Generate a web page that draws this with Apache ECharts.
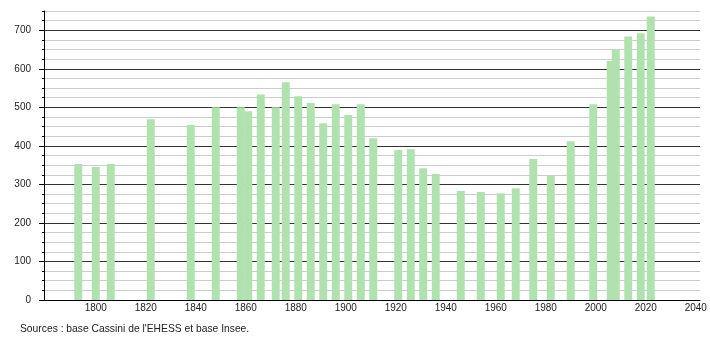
<!DOCTYPE html>
<html>
<head>
<meta charset="utf-8">
<script src="https://cdn.jsdelivr.net/npm/echarts@6/dist/echarts.min.js"></script>
<style>html,body{margin:0;padding:0;background:#fff;}#c{width:710px;height:340px;}</style>
</head>
<body>
<div id="c"></div>
<script>
const years = [1793,1800,1806,1822,1838,1848,1858,1861,1866,1872,1876,1881,1886,1891,1896,1901,1906,1911,1921,1926,1931,1936,1946,1954,1962,1968,1975,1982,1990,1999,2006,2008,2013,2018,2022];
const population = [353,345,353,469,454,500,500,490,533,500,565,529,511,459,508,480,508,420,389,391,342,327,283,280,277,290,366,323,412,508,620,650,684,692,736];
const xTickLabels = [1800,1820,1840,1860,1880,1900,1920,1940,1960,1980,2000,2020,2040];
const yMajorTicks = [0,100,200,300,400,500,600,700];
const sourceText = "Sources : base Cassini de l'EHESS et base Insee.";

const data = years.map((y, i) => [y, population[i]]);
const chart = echarts.init(document.getElementById('c'), null, {renderer: 'canvas'});
const font = 'Liberation Sans, Arial, sans-serif';
chart.setOption({
  animation: false,
  backgroundColor: '#fff',
  title: {
    text: sourceText, left: 20, top: 324, padding: 0,
    textStyle: {fontSize: 10.3, fontWeight: 'normal', color: '#222', fontFamily: font}
  },
  grid: {left: 44, right: 10, top: 11, bottom: 40},
  xAxis: {
    type: 'value', min: 1779.3, max: 2041.7,
    axisLine: {show: true, lineStyle: {color: '#000', width: 1}},
    axisTick: {show: false},
    splitLine: {show: false},
    axisLabel: {
      customValues: xTickLabels,
      margin: 3, fontSize: 10, color: '#222', fontFamily: font,
      formatter: v => String(v)
    }
  },
  yAxis: [{
    type: 'value', min: 0, max: 750, interval: 25, position: 'left',
    axisLine: {show: true, lineStyle: {color: '#000', width: 1}},
    axisTick: {show: true, length: 2, lineStyle: {color: '#000'}},
    splitLine: {show: true, lineStyle: {color: ['#333','#cccccc','#cccccc','#cccccc'], width: 1}},
    axisLabel: {
      margin: 13, fontSize: 10, color: '#222', fontFamily: font,
      formatter: v => (v % 100 === 0 ? String(v) : '')
    }
  }, {
    type: 'value', min: 0, max: 750, position: 'left',
    axisLine: {show: false},
    axisTick: {show: true, length: 5, customValues: yMajorTicks, lineStyle: {color: '#000'}},
    splitLine: {show: false},
    axisLabel: {show: false}
  }],
  series: [{
    type: 'bar',
    data: data,
    barWidth: 8,
    itemStyle: {color: '#b0e2b0'},
    emphasis: {disabled: true}
  }]
});
</script>
</body>
</html>
